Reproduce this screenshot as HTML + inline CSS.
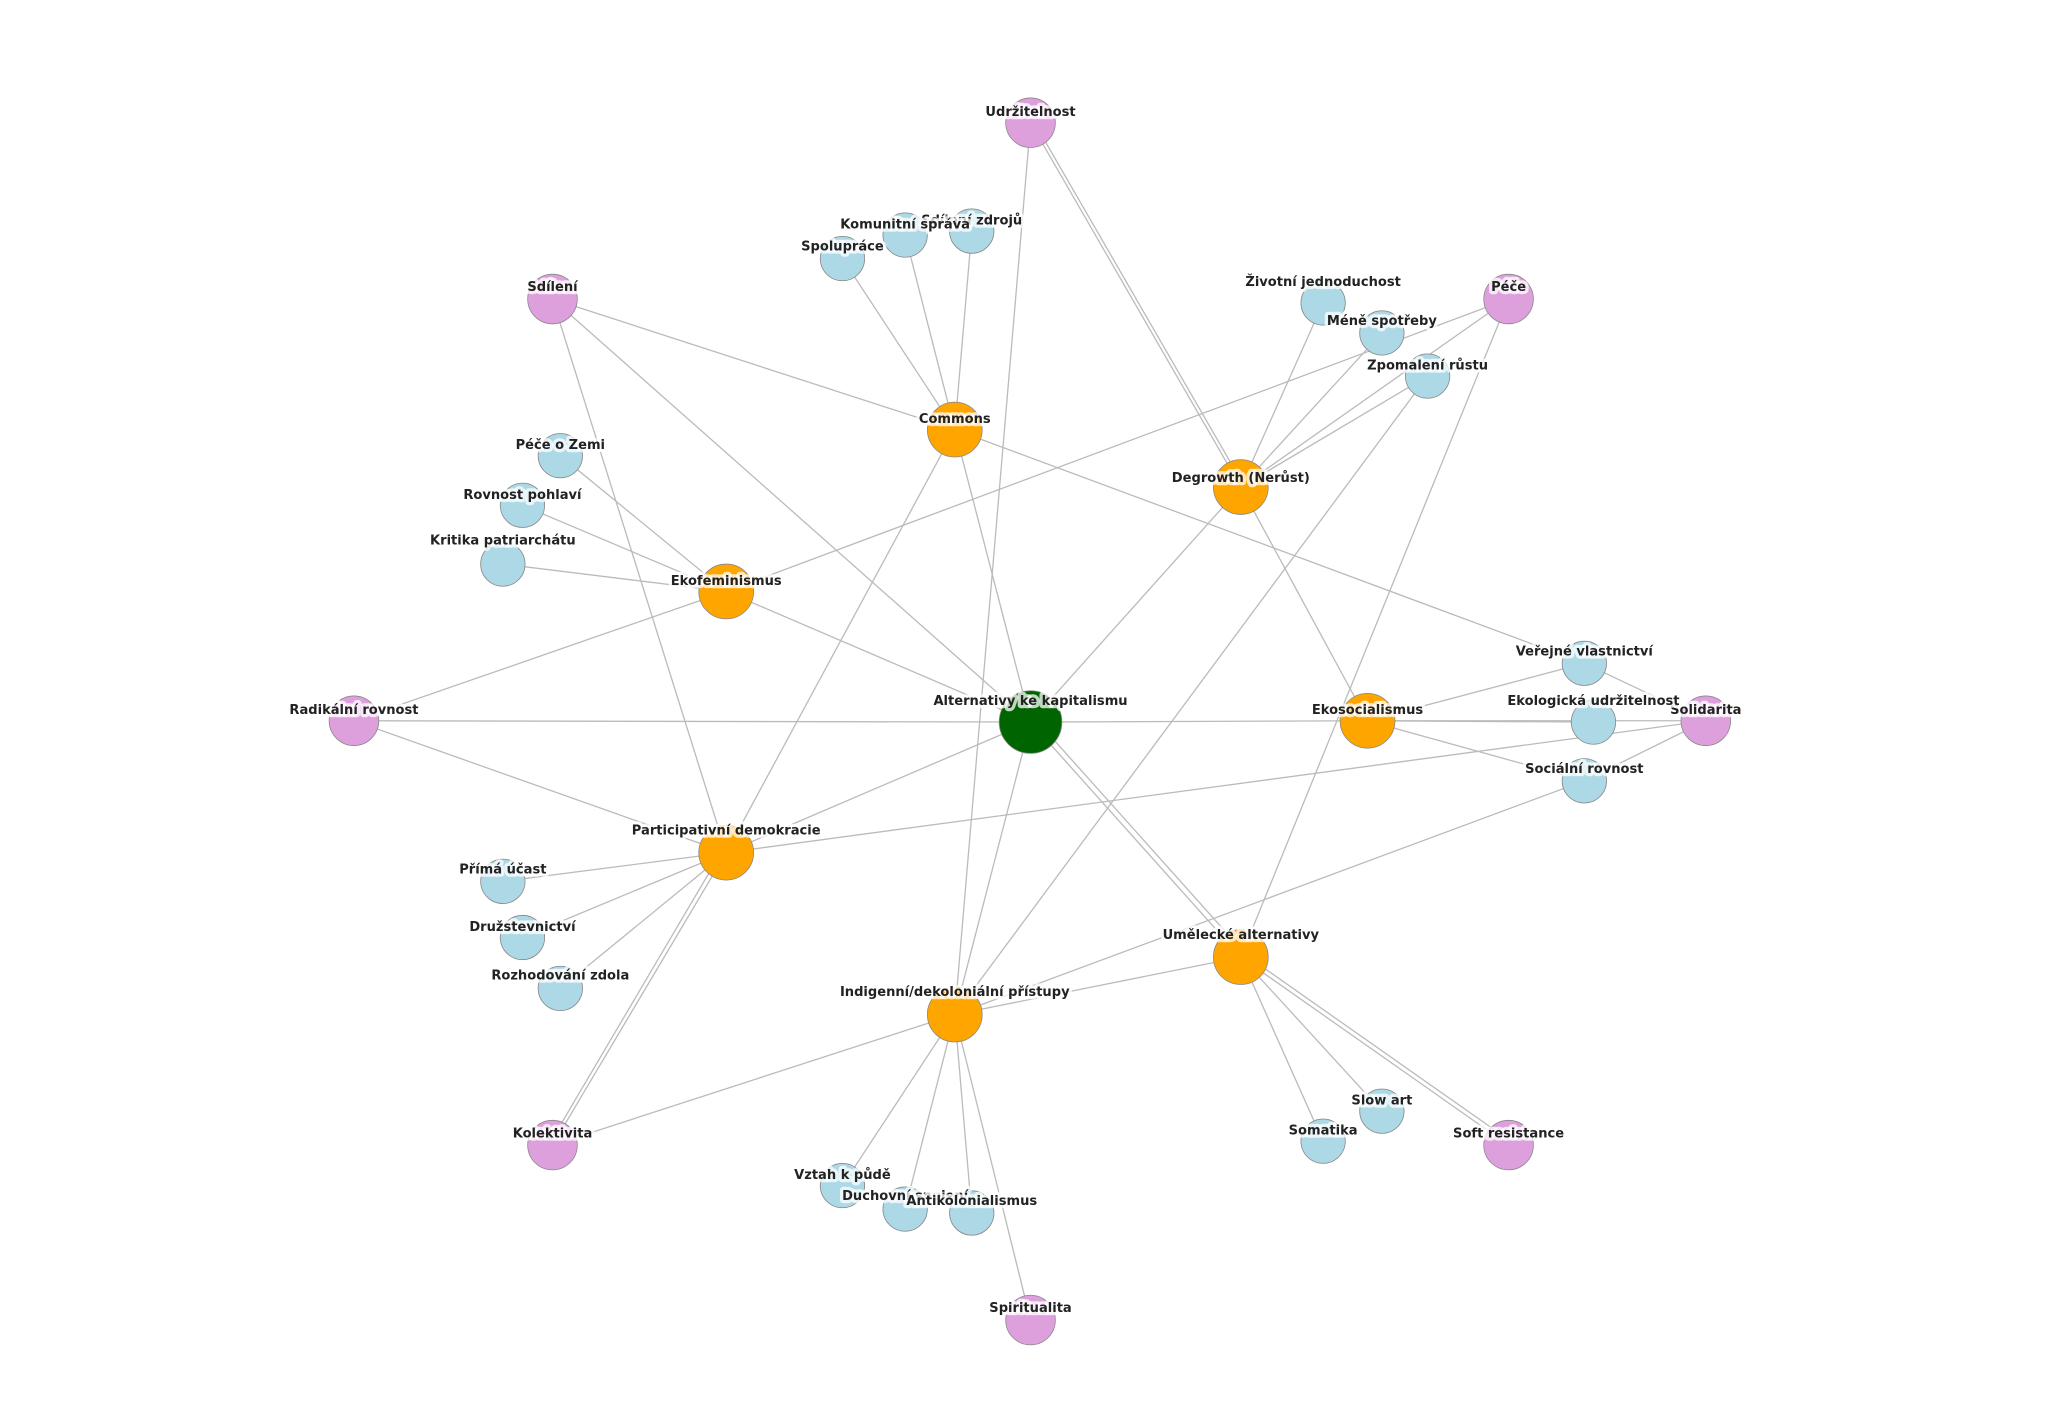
<!DOCTYPE html>
<html><head><meta charset="utf-8"><style>html,body{margin:0;padding:0;background:#fff}svg{display:block}text{font-family:"DejaVu Sans","Liberation Sans",sans-serif;font-weight:bold;font-size:10px;fill:#222;text-anchor:middle}</style></head>
<body>
<svg width="2048" height="1418" viewBox="0 0 1568 1086" preserveAspectRatio="none" xmlns="http://www.w3.org/2000/svg">
<rect width="1568" height="1086" fill="#fff"/>
<g stroke="#bbb" stroke-width="1" fill="none">
<line x1="789" y1="553" x2="731" y2="329"/><line x1="789" y1="553" x2="950" y2="373"/><line x1="789" y1="553" x2="556" y2="453"/><line x1="789" y1="553" x2="1047" y2="552"/><line x1="789" y1="553" x2="556" y2="653"/><line x1="789" y1="553" x2="950" y2="733"/><line x1="792" y1="550" x2="953" y2="730"/><line x1="789" y1="553" x2="731" y2="777"/><line x1="789" y1="553" x2="271" y2="552"/><line x1="1047" y1="552" x2="1306" y2="552"/><line x1="789" y1="553" x2="423" y2="229"/>
<line x1="789" y1="94" x2="731" y2="777"/><line x1="789" y1="94" x2="950" y2="373"/><line x1="792" y1="94" x2="953" y2="373"/>
<line x1="731" y1="329" x2="645" y2="198"/><line x1="731" y1="329" x2="693" y2="180"/><line x1="731" y1="329" x2="744" y2="177"/><line x1="731" y1="329" x2="423" y2="229"/><line x1="731" y1="329" x2="556" y2="653"/><line x1="731" y1="329" x2="1213" y2="508"/>
<line x1="950" y1="373" x2="1013" y2="232"/><line x1="950" y1="373" x2="1058" y2="255"/><line x1="950" y1="373" x2="1093" y2="288"/><line x1="950" y1="373" x2="1155" y2="229"/><line x1="950" y1="373" x2="1047" y2="552"/>
<line x1="556" y1="453" x2="429" y2="349"/><line x1="556" y1="453" x2="400" y2="387"/><line x1="556" y1="453" x2="385" y2="432"/><line x1="556" y1="453" x2="271" y2="552"/><line x1="556" y1="453" x2="1155" y2="229"/>
<line x1="1047" y1="552" x2="1213" y2="508"/><line x1="1047" y1="552" x2="1220" y2="553"/><line x1="1047" y1="552" x2="1213" y2="598"/>
<line x1="556" y1="653" x2="385" y2="675"/><line x1="556" y1="653" x2="400" y2="718"/><line x1="556" y1="653" x2="429" y2="757"/><line x1="556" y1="653" x2="423" y2="877"/><line x1="552" y1="653" x2="420" y2="877"/><line x1="556" y1="653" x2="423" y2="229"/><line x1="556" y1="653" x2="271" y2="552"/><line x1="556" y1="653" x2="1306" y2="552"/>
<line x1="950" y1="733" x2="1058" y2="851"/><line x1="950" y1="733" x2="1013" y2="874"/><line x1="950" y1="733" x2="1155" y2="877"/><line x1="953" y1="731" x2="1158" y2="875"/><line x1="950" y1="733" x2="1155" y2="229"/>
<line x1="731" y1="777" x2="645" y2="908"/><line x1="731" y1="777" x2="693" y2="926"/><line x1="731" y1="777" x2="744" y2="929"/><line x1="731" y1="777" x2="789" y2="1011"/><line x1="731" y1="777" x2="423" y2="877"/><line x1="731" y1="777" x2="1093" y2="288"/><line x1="731" y1="777" x2="950" y2="733"/><line x1="731" y1="777" x2="1213" y2="598"/>
<line x1="1213" y1="508" x2="1306" y2="552"/><line x1="1213" y1="598" x2="1306" y2="552"/>
</g>
<g stroke="#888" stroke-width="0.6">
<circle cx="789" cy="553" r="24" fill="#006400"/>
<g fill="#FFA500"><circle cx="731" cy="329" r="21"/><circle cx="950" cy="373" r="21"/><circle cx="556" cy="453" r="21"/><circle cx="1047" cy="552" r="21"/><circle cx="556" cy="653" r="21"/><circle cx="950" cy="733" r="21"/><circle cx="731" cy="777" r="21"/></g>
<g fill="#DDA0DD"><circle cx="789" cy="94" r="19"/><circle cx="423" cy="229" r="19"/><circle cx="1155" cy="229" r="19"/><circle cx="271" cy="552" r="19"/><circle cx="1306" cy="552" r="19"/><circle cx="423" cy="877" r="19"/><circle cx="1155" cy="877" r="19"/><circle cx="789" cy="1011" r="19"/></g>
<g fill="#ADD8E6"><circle cx="645" cy="198" r="17"/><circle cx="693" cy="180" r="17"/><circle cx="744" cy="177" r="17"/><circle cx="1013" cy="232" r="17"/><circle cx="1058" cy="255" r="17"/><circle cx="1093" cy="288" r="17"/><circle cx="429" cy="349" r="17"/><circle cx="400" cy="387" r="17"/><circle cx="385" cy="432" r="17"/><circle cx="1213" cy="508" r="17"/><circle cx="1220" cy="553" r="17"/><circle cx="1213" cy="598" r="17"/><circle cx="385" cy="675" r="17"/><circle cx="400" cy="718" r="17"/><circle cx="429" cy="757" r="17"/><circle cx="1058" cy="851" r="17"/><circle cx="1013" cy="874" r="17"/><circle cx="645" cy="908" r="17"/><circle cx="693" cy="926" r="17"/><circle cx="744" cy="929" r="17"/></g>
</g>
<g style="paint-order:stroke" stroke="rgba(255,255,255,0.75)" stroke-width="5" stroke-linejoin="round">
<text x="789" y="540">Alternativy ke kapitalismu</text>
<text x="731" y="324">Commons</text><text x="950" y="369">Degrowth (Nerůst)</text><text x="556" y="448">Ekofeminismus</text><text x="1047" y="547">Ekosocialismus</text><text x="556" y="639">Participativní demokracie</text><text x="950" y="719">Umělecké alternativy</text><text x="731" y="763">Indigenní/dekoloniální přístupy</text>
<text x="789" y="89">Udržitelnost</text><text x="423" y="223">Sdílení</text><text x="1155" y="223">Péče</text><text x="271" y="547">Radikální rovnost</text><text x="1306" y="547">Solidarita</text><text x="423" y="871">Kolektivita</text><text x="1155" y="871">Soft resistance</text><text x="789" y="1005">Spiritualita</text>
<text x="744" y="172">Sdílení zdrojů</text><text x="693" y="175">Komunitní správa</text><text x="645" y="192">Spolupráce</text>
<text x="1013" y="219">Životní jednoduchost</text><text x="1058" y="249">Méně spotřeby</text><text x="1093" y="283">Zpomalení růstu</text>
<text x="429" y="344">Péče o Zemi</text><text x="400" y="382">Rovnost pohlaví</text><text x="385" y="417">Kritika patriarchátu</text>
<text x="1213" y="502">Veřejné vlastnictví</text><text x="1220" y="540">Ekologická udržitelnost</text><text x="1213" y="592">Sociální rovnost</text>
<text x="385" y="669">Přímá účast</text><text x="400" y="713">Družstevnictví</text><text x="429" y="750">Rozhodování zdola</text>
<text x="1058" y="846">Slow art</text><text x="1013" y="869">Somatika</text>
<text x="645" y="903">Vztah k půdě</text><text x="693" y="919">Duchovní spojení</text><text x="744" y="923">Antikolonialismus</text>
</g>
</svg>
</body></html>
